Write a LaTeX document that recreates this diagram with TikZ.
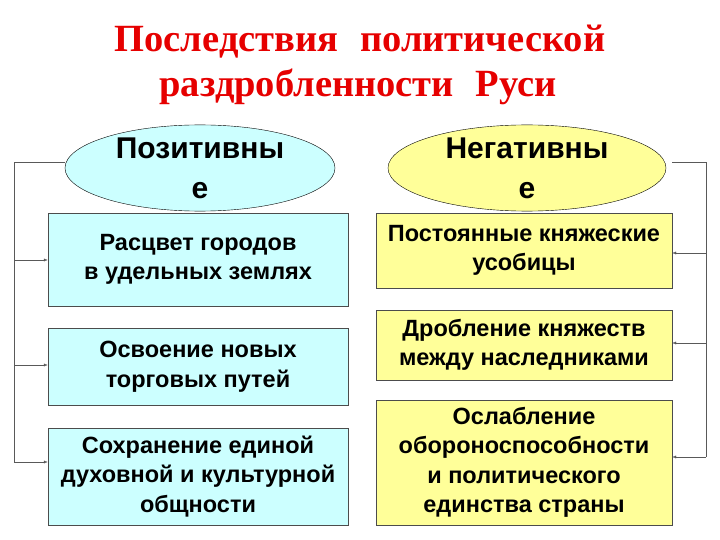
\documentclass[tikz,border=0pt]{standalone}
\usepackage{fontspec}
\setmainfont{Liberation Serif}
\setsansfont{Liberation Sans}
\usepackage{tikz}
\usetikzlibrary{positioning}
\usetikzlibrary{shapes}
\usetikzlibrary{arrows.meta}
\definecolor{boxcyan}{RGB}{204,255,255}
\definecolor{boxyellow}{RGB}{255,255,153}
\definecolor{titlered}{RGB}{230,0,0}
\tikzset{
  title_text/.style={font=\fontsize{38.5}{45}\selectfont\bfseries\rmfamily, color=titlered, anchor=base, inner sep = 0},
  head_ellipse/.style={ellipse, draw, color=black, thin, minimum width = 270, minimum height = 71, inner sep = 0, align=center, font=\fontsize{30}{40}\selectfont\bfseries\sffamily, text=black},
  box_pos/.style={rectangle, draw=black!70, fill=boxcyan, minimum width = 300, align=center, inner sep = 0, font=\fontsize{23.5}{29.5}\selectfont\bfseries\sffamily},
  box_neg/.style={rectangle, draw=black!70, fill=boxyellow, minimum width = 296, align=center, inner sep = 0, font=\fontsize{23.5}{29.5}\selectfont\bfseries\sffamily},
  arrow_link/.style={-{Latex[length=4pt,width=3pt]}, thin, color = black!65},
  line_link/.style={-, thin, color = black!65}
}
\begin{document}
\begin{tikzpicture}[x=1pt, y=-1pt]
\useasboundingbox (0,0) rectangle (720,540);

\node[title_text] at (360,52) (title1) {Последствия\hspace{12pt} политической};
\node[title_text] at (358,97) (title2) {раздробленности\hspace{12pt} Руси};

\node[head_ellipse, fill=boxcyan]   at (200,168) (pos) {Позитивны\\е};
\node[head_ellipse, fill=boxyellow, minimum width = 278] at (527,168) (neg) {Негативны\\е};

%% left boxes
\node[box_pos, minimum height = 93] at (198,259.5) (pos1) {Расцвет городов\\в удельных землях};
\node[box_pos, minimum height = 77] at (198,366.5) (pos2) {Освоение новых\\торговых путей};
\node[box_pos, minimum height = 97] at (198,476.5) (pos3) {Сохранение единой\\духовной и культурной\\общности};

%% right boxes
\node[box_neg, minimum height = 75] at (524,250.5) (neg1) {Постоянные княжеские\\усобицы};
\node[box_neg, minimum height = 70] at (524,345) (neg2) {Дробление княжеств\\между наследниками};
\node[box_neg, minimum height = 125] at (524,462.5) (neg3) {Ослабление\\обороноспособности\\и политического\\единства страны};

%% connectors
\coordinate (lt) at (14,162);
\coordinate (lb) at (14,462);
\coordinate (rt) at (706,162);
\coordinate (rb) at (706,457);

\draw[line_link] (pos.west |- lt) -- (lt) -- (lb);
\draw[arrow_link] (lt |- 0,260) -- (pos1.west |- 0,260);
\draw[arrow_link] (lt |- 0,365) -- (pos2.west |- 0,365);
\draw[arrow_link] (lb) -- (pos3.west |- lb);

\draw[line_link] (672,162) -- (rt) -- (rb);
\draw[arrow_link] (rt |- 0,253) -- (neg1.east |- 0,253);
\draw[arrow_link] (rt |- 0,343) -- (neg2.east |- 0,343);
\draw[arrow_link] (rb) -- (neg3.east |- rb);

\end{tikzpicture}
\end{document}
